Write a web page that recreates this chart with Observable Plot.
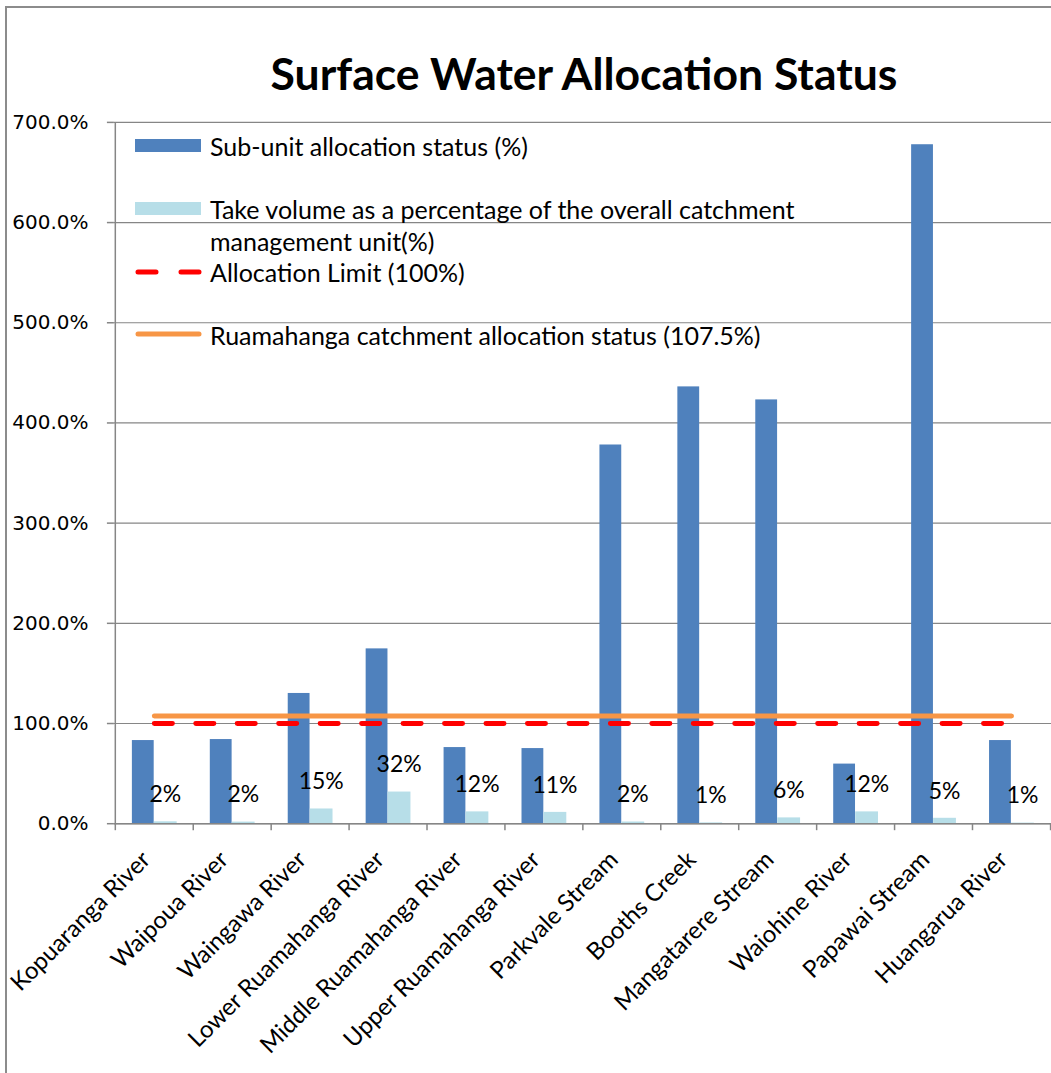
<!DOCTYPE html>
<html>
<head>
<meta charset="utf-8">
<script src="https://cdn.jsdelivr.net/npm/d3@7"></script>
<script src="https://cdn.jsdelivr.net/npm/@observablehq/plot@0.6"></script>
<style>
  html, body { margin: 0; padding: 0; overflow: hidden; background: #fff; }
  #wrap { position: relative; width: 1051px; height: 1073px; overflow: hidden; background: #fff; }
  #frame { position: absolute; left: 5px; top: 6px; width: 1200px; height: 1200px;
           border-left: 2px solid #8c8c8c; border-top: 2px solid #8c8c8c; pointer-events: none; }
  #chart { position: absolute; left: 0; top: 0; }
  #title { position: absolute; left: 0; top: 50px; width: 1168px; text-align: center;
           font-family: Lato, sans-serif; font-weight: bold; font-size: 44.5px; line-height: 46px; color: #000; }
  .leg { position: absolute; left: 210px; font-family: Lato, sans-serif; font-size: 25px; line-height: 30px; color: #000; white-space: nowrap; }
  .sw { position: absolute; left: 135px; }
</style>
</head>
<body>
<div id="wrap">
  <div id="chart"></div>
  <div id="title">Surface Water Allocation Status</div>
  <div class="sw" style="top:139px;width:66px;height:13px;background:#4F81BD"></div>
  <div class="leg" style="top:131px">Sub-unit allocation status (%)</div>
  <div class="sw" style="top:202px;width:66px;height:13px;background:#B7DEE8"></div>
  <div class="leg" style="top:194px">Take volume as a percentage of the overall catchment</div>
  <div class="leg" style="top:226px">management unit(%)</div>
  <svg class="sw" style="top:266px" width="70" height="12"><line x1="3" y1="6" x2="66" y2="6" stroke="#FF0000" stroke-width="5" stroke-linecap="round" stroke-dasharray="18,25"/></svg>
  <div class="leg" style="top:257px">Allocation Limit (100%)</div>
  <svg class="sw" style="top:328px" width="70" height="12"><line x1="3" y1="6" x2="64" y2="6" stroke="#F79646" stroke-width="5" stroke-linecap="round"/></svg>
  <div class="leg" style="top:320px">Ruamahanga catchment allocation status (107.5%)</div>
  <div id="frame"></div>
</div>
<script>
const categories = ["Kopuaranga River", "Waipoua River", "Waingawa River", "Lower Ruamahanga River",
  "Middle Ruamahanga River", "Upper Ruamahanga River", "Parkvale Stream", "Booths Creek",
  "Mangatarere Stream", "Waiohine River", "Papawai Stream", "Huangarua River"];
const subUnitStatus = [83, 84, 130, 174.5, 76, 75, 378, 436, 423, 59.5, 677.7, 83];
const takeVolume = [1.9, 1.6, 14.7, 31.6, 11.8, 11.3, 1.7, 0.8, 5.8, 11.8, 5.4, 0.6];
const allocationLimit = 100;
const catchmentStatus = 107.5;
const yTicks = [0, 100, 200, 300, 400, 500, 600, 700];

const W = 1052, H = 1073, mL = 114, mR = 0, mT = 122, mB = 249;
const bw = (W - mL - mR) / categories.length;

const rows = categories.map((c, i) => ({c, sub: subUnitStatus[i], take: takeVolume[i], label: Math.round(takeVolume[i]) + "%"}));
const limitRows = categories.map(c => ({c, v: allocationLimit}));
const statusRows = categories.map(c => ({c, v: catchmentStatus}));

const chart = Plot.plot({
  width: W, height: H,
  marginLeft: mL, marginRight: mR, marginTop: mT, marginBottom: mB,
  style: {fontFamily: "Lato, sans-serif", fontSize: "20px", overflow: "visible", background: "transparent"},
  x: {type: "band", domain: categories, padding: 0, label: null},
  y: {domain: [0, 700], label: null},
  marks: [
    Plot.gridY(yTicks, {stroke: "#868686", strokeOpacity: 1, strokeWidth: 1.2}),
    Plot.barY(rows, {x: "c", y: "sub", fill: "#4F81BD", insetLeft: 17, insetRight: bw - 39}),
    Plot.barY(rows, {x: "c", y: "take", fill: "#B7DEE8", insetLeft: 39, insetRight: bw - 62}),
    Plot.ruleY([0], {stroke: "#868686", strokeWidth: 1.5}),
    Plot.ruleX([categories[0]], {y1: 0, y2: 700, dx: -bw / 2, stroke: "#868686", strokeWidth: 1.5}),
    Plot.ruleX(categories, {y1: 0, y2: 0, insetTop: 7, dx: -bw / 2, stroke: "#868686", strokeWidth: 1.5}),
    Plot.ruleX([categories[categories.length - 1]], {y1: 0, y2: 0, insetTop: 7, dx: bw / 2, stroke: "#868686", strokeWidth: 1.5}),
    Plot.lineY(limitRows, {x: "c", y: "v", stroke: "#FF0000", strokeWidth: 5, strokeDasharray: "18,23.5", strokeLinecap: "round"}),
    Plot.lineY(statusRows, {x: "c", y: "v", stroke: "#F79646", strokeWidth: 5, strokeLinecap: "round"}),
    Plot.text(rows, {x: "c", y: "take", text: "label", dx: 11, dy: -27, lineAnchor: "middle", fontSize: 23, fill: "#000", fontFamily: "Lato, sans-serif"}),
    Plot.axisY(yTicks, {tickFormat: d => d.toFixed(1) + "%", tickSize: 7, tickPadding: 19, fontSize: 20,
      fontFamily: "DejaVu Sans, sans-serif", stroke: "#868686", strokeWidth: 1.5, fill: "#000", label: null}),
    Plot.axisX({tickSize: 0, tickPadding: 30, tickRotate: -45, fontSize: 24, dx: -8, dy: 2, fill: "#000", label: null})
  ]
});
document.getElementById("chart").appendChild(chart);
</script>
</body>
</html>
